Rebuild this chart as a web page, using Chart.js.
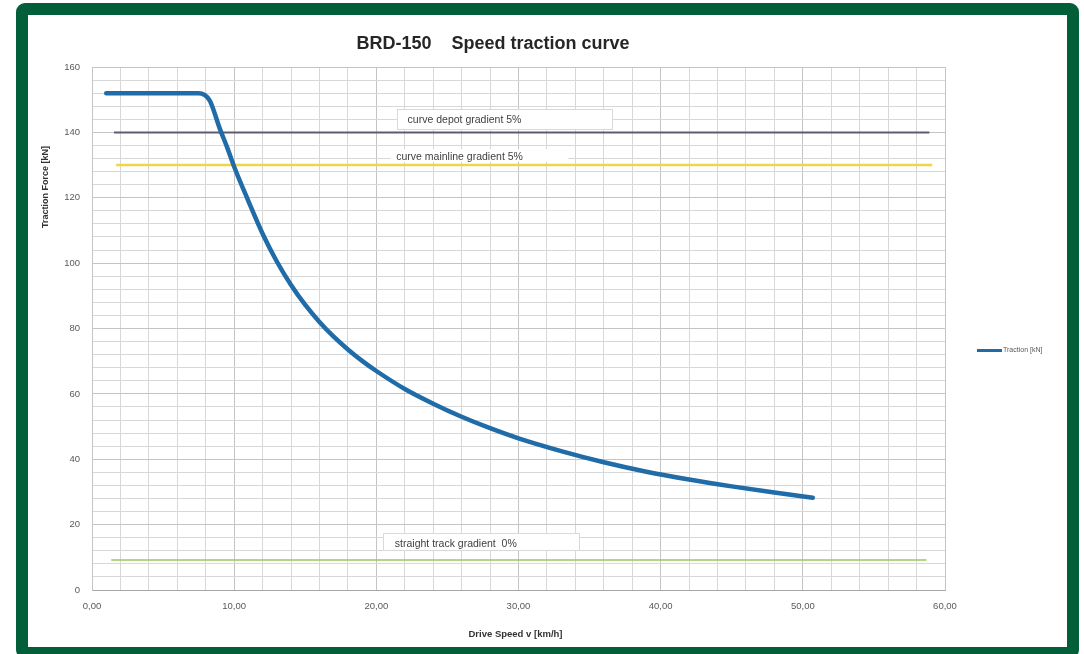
<!DOCTYPE html>
<html><head><meta charset="utf-8">
<script src="https://cdn.jsdelivr.net/npm/chart.js@4.4.0/dist/chart.umd.min.js"></script>
<style>
html,body{margin:0;padding:0;background:#fff;width:1084px;height:654px;overflow:hidden}
#frame{position:absolute;left:16px;top:3px;width:1063px;height:656px;box-sizing:border-box;border:12px solid #035e3a;border-radius:9px;background:#fff}
#wrap{position:absolute;left:0;top:0;width:1084px;height:654px}
</style></head><body>
<div id="frame"></div>
<div id="wrap"><canvas id="c" width="1084" height="654"></canvas></div>
<script>
// ---- data ----
const titleText = 'BRD-150    Speed traction curve';
const xTitle = 'Drive Speed v [km/h]';
const yTitle = 'Traction Force [kN]';
const seriesLabel = 'Traction [kN]';

const speed    = [1.0, 7.5, 7.9, 8.3, 9.0, 9.5, 10.0, 11.0, 12.0, 13.0, 14.0, 15.0, 16.0, 17.0, 18.0, 19.0, 20.0, 22.0, 24.0, 26.0, 28.0, 30.0, 33.0, 36.0, 39.0, 42.0, 45.0, 48.0, 50.7];
const traction = [152, 152, 151.5, 149.6, 141, 135.5, 129.5, 119, 109, 100.5, 93.3, 87.2, 82.0, 77.5, 73.6, 70.1, 67.0, 61.5, 57.0, 53.0, 49.5, 46.4, 42.5, 39.1, 36.2, 33.8, 31.7, 29.8, 28.2];

const depotSpeed = [1.55, 58.9],    depotForce = [140, 140];
const mainSpeed = [1.7, 59.1],      mainForce = [130, 130];
const straightSpeed = [1.35, 58.7], straightForce = [9.2, 9.2];

const xMin = 0, xMax = 60, xMajor = 10, xMinor = 2;
const yMin = 0, yMax = 160, yMajor = 20, yMinor = 4;

// annotation labels
const labelTexts  = ['curve depot gradient 5%', 'curve mainline gradient 5%', 'straight track gradient  0%'];
const labelSpeed  = [22.2, 21.4, 21.3];
const labelForce  = [143.8, 132.3, 14.1];
const boxSpeed0   = [21.45, 21.0, 20.5];
const boxSpeed1   = [36.6, 33.5, 34.3];
const boxForceTop = [147.1, 134.8, 17.4];
const boxForceBot = [140.9, 131.0, 12.2];
const boxBorder   = [true, false, true];

const pts = (xs, ys) => xs.map((v, i) => ({x: v, y: ys[i]}));
const fmt = v => v.toFixed(2).replace('.', ',');

const overlay = {
  id: 'overlay',
  afterDatasetsDraw(chart) {
    const {ctx, scales: {x, y}} = chart;
    ctx.save();
    labelTexts.forEach((t, i) => {
      const x0 = x.getPixelForValue(boxSpeed0[i]), x1 = x.getPixelForValue(boxSpeed1[i]);
      const y0 = y.getPixelForValue(boxForceTop[i]), y1 = y.getPixelForValue(boxForceBot[i]);
      ctx.fillStyle = '#ffffff';
      ctx.fillRect(x0, y0, x1 - x0, y1 - y0);
      if (boxBorder[i]) {
        ctx.strokeStyle = '#d9d9d9';
        ctx.lineWidth = 1;
        ctx.strokeRect(Math.round(x0) + 0.5, Math.round(y0) + 0.5, Math.round(x1 - x0), Math.round(y1 - y0));
      }
      ctx.fillStyle = '#404040';
      ctx.font = '10.5px "Liberation Sans", Arial, sans-serif';
      ctx.textAlign = 'left';
      ctx.textBaseline = 'middle';
      ctx.fillText(t, x.getPixelForValue(labelSpeed[i]), y.getPixelForValue(labelForce[i]));
    });
    ctx.restore();
  },
  afterDraw(chart) {
    const {ctx, chartArea} = chart;
    ctx.save();
    ctx.fillStyle = '#262626';
    ctx.font = 'bold 18px "Liberation Sans", Arial, sans-serif';
    ctx.textAlign = 'center';
    ctx.textBaseline = 'middle';
    ctx.fillText(titleText, 493, 44);
    ctx.font = 'bold 9.5px "Liberation Sans", Arial, sans-serif';
    ctx.fillStyle = '#333333';
    ctx.fillText(xTitle, (chartArea.left + chartArea.right) / 2 - 3, 634);
    ctx.save();
    ctx.translate(46, 187);
    ctx.rotate(-Math.PI / 2);
    ctx.font = 'bold 9px "Liberation Sans", Arial, sans-serif';
    ctx.fillText(yTitle, 0, 0);
    ctx.restore();
    const ds = chart.data.datasets[0];
    const ly = (chartArea.top + chartArea.bottom) / 2 + 22;
    const lx = chartArea.right + 32;
    ctx.strokeStyle = ds.borderColor;
    ctx.lineWidth = 3;
    ctx.beginPath(); ctx.moveTo(lx, ly); ctx.lineTo(lx + 25, ly); ctx.stroke();
    ctx.fillStyle = '#595959';
    ctx.font = '7px "Liberation Sans", Arial, sans-serif';
    ctx.textAlign = 'left';
    ctx.fillText(ds.label, lx + 26, ly);
    ctx.restore();
  }
};

new Chart(document.getElementById('c'), {
  type: 'scatter',
  data: {
    datasets: [
      {label: seriesLabel, data: pts(speed, traction), showLine: true, borderColor: '#1f6ca8', borderWidth: 4.5,
       pointRadius: 0, cubicInterpolationMode: 'monotone', borderCapStyle: 'round', borderJoinStyle: 'round'},
      {label: 'curve depot gradient 5%', data: pts(depotSpeed, depotForce), showLine: true, borderColor: '#5c5c6e', borderWidth: 2, pointRadius: 0},
      {label: 'curve mainline gradient 5%', data: pts(mainSpeed, mainForce), showLine: true, borderColor: '#f0d44a', borderWidth: 2.5, pointRadius: 0},
      {label: 'straight track gradient 0%', data: pts(straightSpeed, straightForce), showLine: true, borderColor: '#9cc95e', borderWidth: 1.5, pointRadius: 0}
    ]
  },
  options: {
    responsive: false,
    animation: false,
    layout: {padding: {left: 0, right: 139, top: 67, bottom: 0}},
    plugins: {legend: {display: false}, title: {display: false}, tooltip: {enabled: false}},
    scales: {
      x: {
        type: 'linear', min: xMin, max: xMax,
        afterFit: s => { s.height = 64; },
        grid: {drawTicks: false, color: c => (c.tick && c.tick.value % xMajor === 0) ? '#c4c4c4' : '#d8d8d8', lineWidth: 1},
        border: {color: '#a6a6a6', width: 1},
        ticks: {stepSize: xMinor, autoSkip: false, maxRotation: 0, padding: 11, color: '#595959',
                font: {family: '"Liberation Sans", Arial, sans-serif', size: 9.5},
                callback: v => (v % xMajor === 0) ? fmt(v) : ''}
      },
      y: {
        type: 'linear', min: yMin, max: yMax,
        afterFit: s => { s.width = 92; },
        grid: {drawTicks: false, color: c => (c.tick && c.tick.value % yMajor === 0) ? '#c4c4c4' : '#d8d8d8', lineWidth: 1},
        border: {color: '#c4c4c4', width: 1},
        ticks: {stepSize: yMinor, autoSkip: false, padding: 12, color: '#595959',
                font: {family: '"Liberation Sans", Arial, sans-serif', size: 9.5},
                callback: v => (v % yMajor === 0) ? String(v) : ''}
      }
    }
  },
  plugins: [overlay]
});
</script>
</body></html>
